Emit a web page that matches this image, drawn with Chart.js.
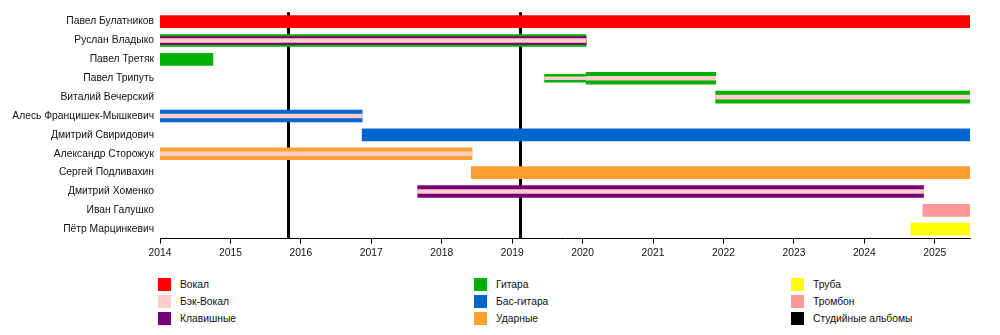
<!DOCTYPE html>
<html>
<head>
<meta charset="utf-8">
<script src="https://cdn.jsdelivr.net/npm/chart.js@4"></script>
<style>
  body { margin: 0; background: #fff; font-family: "Liberation Sans", Arial, sans-serif; }
  .wrap { position: relative; width: 1000px; height: 335px; }
  #timeline { position: absolute; left: 0; top: 0; }
  .key { position: absolute; font-size: 10.3px; color: #111; line-height: 13px; }
  .key span { display: inline-block; width: 13px; height: 13px; vertical-align: top; margin-right: 9px; }
</style>
</head>
<body>
<div class="wrap">
  <canvas id="timeline" width="1000" height="266"></canvas>
  <div id="legend"></div>
</div>
<script>
// Members, top to bottom
const members = [
  "Павел Булатников", "Руслан Владыко", "Павел Третяк", "Павел Трипуть",
  "Виталий Вечерский", "Алесь Францишек-Мышкевич", "Дмитрий Свиридович",
  "Александр Сторожук", "Сергей Подливахин", "Дмитрий Хоменко",
  "Иван Галушко", "Пётр Марцинкевич"
];
const startYear = 2014;
const endYear = 2025.5;

// [member, from, to]
const vocals = [["Павел Булатников", 2014, 2025.5]];
const guitar = [
  ["Руслан Владыко", 2014, 2020.05],
  ["Павел Третяк", 2014, 2014.75],
  ["Павел Трипуть", 2020.05, 2021.89],
  ["Виталий Вечерский", 2021.89, 2025.5]
];
const guitarEarly = [["Павел Трипуть", 2019.46, 2020.05]];
const keysInner = [["Руслан Владыко", 2014, 2020.05]];
const keys = [["Дмитрий Хоменко", 2017.66, 2024.84]];
const bass = [
  ["Алесь Францишек-Мышкевич", 2014, 2016.87],
  ["Дмитрий Свиридович", 2016.87, 2025.5]
];
const drums = [
  ["Александр Сторожук", 2014, 2018.43],
  ["Сергей Подливахин", 2018.42, 2025.5]
];
const trumpet = [["Пётр Марцинкевич", 2024.66, 2025.5]];
const trombone = [["Иван Галушко", 2024.83, 2025.5]];
const backing = [
  ["Руслан Владыко", 2014, 2020.05],
  ["Павел Трипуть", 2020.05, 2021.89],
  ["Виталий Вечерский", 2021.89, 2025.5],
  ["Алесь Францишек-Мышкевич", 2014, 2016.87],
  ["Александр Сторожук", 2014, 2018.43],
  ["Дмитрий Хоменко", 2017.66, 2024.84]
];
const backingEarly = [["Павел Трипуть", 2019.46, 2020.05]];
const albums = [2015.82, 2019.11];

const colors = {
  vocals: "#ff0000", backing: "#ffcccc", keys: "#770077",
  guitar: "#00b000", bass: "#0066cc", drums: "#ffa030",
  trumpet: "#ffff00", trombone: "#ff9999", albums: "#000000"
};
const legendItems = [
  ["Вокал", colors.vocals], ["Бэк-Вокал", colors.backing], ["Клавишные", colors.keys],
  ["Гитара", colors.guitar], ["Бас-гитара", colors.bass], ["Ударные", colors.drums],
  ["Труба", colors.trumpet], ["Тромбон", colors.trombone], ["Студийные альбомы", colors.albums]
];

function spans(list) {
  return list.map(([name, from, to]) => ({ y: name, x: [from, to] }));
}
function layer(list, color, thick) {
  return { data: spans(list), backgroundColor: color, barThickness: thick };
}

// album lines sit under the bars
const albumLines = {
  id: "albumLines",
  beforeDatasetsDraw(chart) {
    const ctx = chart.ctx, area = chart.chartArea, x = chart.scales.x;
    ctx.save();
    ctx.strokeStyle = colors.albums;
    ctx.lineWidth = 3;
    albums.forEach((yr) => {
      const px = Math.round(x.getPixelForValue(yr)) + 0.5;
      ctx.beginPath();
      ctx.moveTo(px, area.top);
      ctx.lineTo(px, area.bottom);
      ctx.stroke();
    });
    ctx.restore();
  }
};

const tickFont = { family: "Liberation Sans", size: 10.3 };

new Chart("timeline", {
  type: "bar",
  data: {
    labels: members,
    datasets: [
      layer(backing, colors.backing, 4),
      layer(backingEarly, colors.backing, 3),
      layer(keysInner, colors.keys, 8),
      layer(guitarEarly, colors.guitar, 8),
      layer(vocals, colors.vocals, 12),
      layer(guitar, colors.guitar, 12),
      layer(keys, colors.keys, 12),
      layer(bass, colors.bass, 12),
      layer(drums, colors.drums, 12),
      layer(trumpet, colors.trumpet, 12),
      layer(trombone, colors.trombone, 12)
    ]
  },
  options: {
    indexAxis: "y",
    responsive: false,
    animation: false,
    devicePixelRatio: 1,
    datasets: { bar: { grouped: false, borderWidth: 0 } },
    layout: { padding: { top: 7, right: 30, bottom: 4, left: 0 } },
    plugins: { legend: { display: false }, tooltip: { enabled: false } },
    scales: {
      x: {
        type: "linear",
        min: startYear,
        max: endYear,
        grid: { drawOnChartArea: false, tickLength: 5, color: "#000" },
        border: { color: "#000", width: 1 },
        ticks: {
          stepSize: 1,
          includeBounds: false,
          color: "#111",
          font: tickFont,
          callback: (v) => String(v)
        }
      },
      y: {
        grid: { display: false, drawTicks: false },
        border: { display: false },
        ticks: { color: "#111", padding: 6, font: tickFont },
        afterFit: (s) => { s.width = 160; }
      }
    }
  },
  plugins: [albumLines]
});

// legend, three columns
const legend = document.getElementById("legend");
const colX = [158, 474, 791];
legendItems.forEach(([label, color], i) => {
  const el = document.createElement("div");
  el.className = "key";
  el.style.left = colX[Math.floor(i / 3)] + "px";
  el.style.top = (278 + (i % 3) * 17) + "px";
  el.innerHTML = '<span style="background:' + color + '"></span>' + label;
  legend.appendChild(el);
});
</script>
</body>
</html>
